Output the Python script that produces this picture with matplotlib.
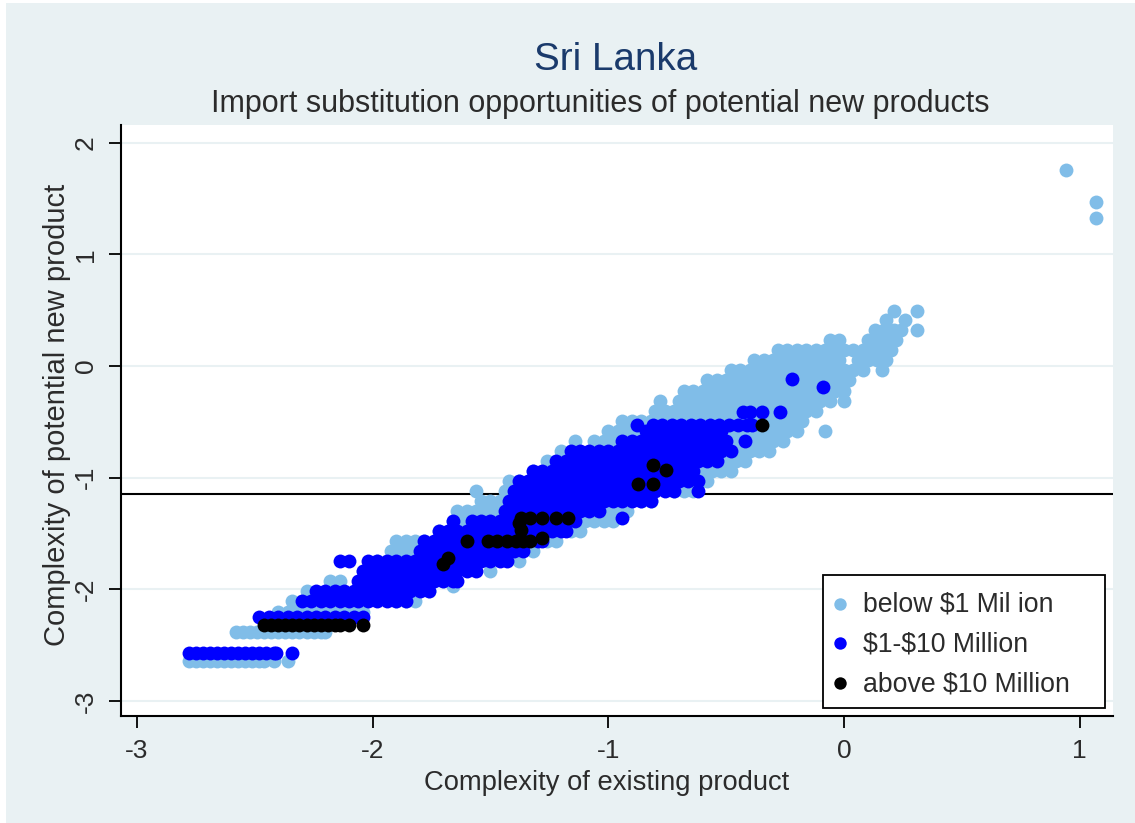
import matplotlib
matplotlib.use('Agg')
import matplotlib.pyplot as plt
from matplotlib.patches import Rectangle

plt.rcParams['font.family'] = ['Liberation Sans', 'DejaVu Sans']

# rows of (complexity of new product, [complexity of existing product, ...])
# light points hidden under the blue ones are left out
light_rows = [
    (-2.64, [-2.78, -2.75, -2.72, -2.69, -2.66, -2.63, -2.60, -2.57, -2.54, -2.51, -2.48, -2.46, -2.42, -2.36]),
    (-2.38, [-2.58, -2.55, -2.52, -2.49, -2.46, -2.43, -2.40, -2.37, -2.34, -2.31, -2.28, -2.25, -2.22, -2.20]),
    (-2.20, [-2.40, -2.36, -2.32, -2.28, -2.24, -2.20, -2.16, -2.12, -2.08, -2.04]),
    (-2.11, [-2.34, -2.30, -2.26, -1.90, -1.86, -1.82]),
    (-2.02, [-2.28, -1.80, -1.76]),
    (-1.97, [-1.66]),
    (-1.93, [-2.18, -2.14, -1.78, -1.74, -1.70]),
    (-1.84, [-2.04, -1.68, -1.64, -1.50]),
    (-1.75, [-1.98, -1.94, -1.62, -1.58, -1.38]),
    (-1.66, [-1.92, -1.88, -1.84, -1.32]),
    (-1.57, [-1.90, -1.86, -1.82, -1.78, -1.26, -1.22]),
    (-1.48, [-1.72, -1.16, -1.12]),
    (-1.39, [-1.66, -1.62, -1.14, -1.10, -1.06, -1.02, -0.98]),
    (-1.30, [-1.64, -1.60, -1.56, -1.52, -1.48, -1.04, -1.00, -0.96, -0.92]),
    (-1.21, [-1.54, -1.50, -1.46, -0.86, -0.82]),
    (-1.12, [-1.56, -1.44, -1.40, -0.72, -0.68, -0.64]),
    (-1.03, [-1.42, -1.38, -0.62, -0.58]),
    (-0.94, [-1.32, -0.60, -0.56, -0.52, -0.48]),
    (-0.85, [-1.26, -1.22, -0.54, -0.50, -0.46, -0.42]),
    (-0.76, [-1.20, -1.16, -0.48, -0.44, -0.40, -0.36, -0.32]),
    (-0.67, [-1.14, -1.06, -1.02, -0.98, -0.46, -0.42, -0.38, -0.34, -0.30, -0.26]),
    (-0.58, [-1.00, -0.96, -0.92, -0.88, -0.48, -0.44, -0.40, -0.36, -0.32, -0.28, -0.24, -0.20, -0.08]),
    (-0.49, [-0.94, -0.90, -0.86, -0.82, -0.78, -0.74, -0.70, -0.66, -0.62, -0.58, -0.54, -0.50, -0.46, -0.42, -0.38, -0.34, -0.30, -0.26, -0.22, -0.18]),
    (-0.40, [-0.80, -0.76, -0.72, -0.68, -0.64, -0.60, -0.56, -0.52, -0.48, -0.44, -0.40, -0.36, -0.32, -0.28, -0.24, -0.20, -0.16, -0.12]),
    (-0.31, [-0.78, -0.70, -0.66, -0.62, -0.58, -0.54, -0.50, -0.46, -0.42, -0.38, -0.34, -0.30, -0.26, -0.22, -0.18, -0.14, -0.10, -0.06, 0.00]),
    (-0.22, [-0.68, -0.64, -0.60, -0.56, -0.52, -0.48, -0.44, -0.40, -0.36, -0.32, -0.28, -0.24, -0.20, -0.16, -0.12, -0.08, -0.04, 0.00]),
    (-0.13, [-0.58, -0.54, -0.50, -0.46, -0.42, -0.38, -0.34, -0.30, -0.26, -0.22, -0.18, -0.14, -0.10, -0.06, -0.02, 0.02]),
    (-0.04, [-0.48, -0.44, -0.40, -0.36, -0.32, -0.28, -0.24, -0.20, -0.16, -0.12, -0.08, -0.04, 0.00, 0.04, 0.08, 0.16]),
    (0.05, [-0.38, -0.34, -0.30, -0.26, -0.22, -0.18, -0.14, -0.10, -0.06, -0.02, 0.06, 0.10, 0.14, 0.18]),
    (0.14, [-0.28, -0.24, -0.20, -0.16, -0.12, -0.08, -0.04, 0.00, 0.04, 0.08, 0.12, 0.16, 0.20]),
    (0.23, [-0.06, -0.02, 0.10, 0.14, 0.18, 0.22]),
    (0.32, [0.13, 0.17, 0.21, 0.24, 0.31]),
    (0.41, [0.18, 0.26]),
    (0.49, [0.21, 0.31]),
    (1.33, [1.07]),
    (1.47, [1.07]),
    (1.76, [0.94]),
]
blue_rows = [
    (-2.57, [-2.78, -2.75, -2.72, -2.69, -2.66, -2.63, -2.60, -2.57, -2.54, -2.51, -2.48, -2.45, -2.42, -2.41, -2.34]),
    (-2.25, [-2.48, -2.44, -2.40, -2.36, -2.32, -2.28, -2.24, -2.20, -2.16, -2.12, -2.08, -2.04]),
    (-2.11, [-2.30, -2.26, -2.22, -2.18, -2.14, -2.10, -2.06, -2.02, -1.98, -1.94, -1.90, -1.86]),
    (-2.02, [-2.24, -2.20, -2.16, -2.12, -2.08, -2.04, -2.00, -1.96, -1.92, -1.88, -1.84, -1.80, -1.76]),
    (-1.93, [-2.06, -2.02, -1.98, -1.94, -1.90, -1.86, -1.82, -1.78, -1.74, -1.70, -1.66, -1.64]),
    (-1.84, [-2.04, -2.00, -1.96, -1.92, -1.88, -1.84, -1.80, -1.76, -1.72, -1.68, -1.64, -1.60, -1.56]),
    (-1.75, [-2.14, -2.10, -2.02, -1.98, -1.94, -1.90, -1.86, -1.82, -1.78, -1.74, -1.70, -1.66, -1.62, -1.58, -1.54, -1.50, -1.46, -1.43]),
    (-1.66, [-1.80, -1.76, -1.72, -1.68, -1.64, -1.60, -1.56, -1.52, -1.48, -1.44, -1.40, -1.36]),
    (-1.57, [-1.78, -1.74, -1.70, -1.66, -1.62, -1.58, -1.54, -1.50, -1.46, -1.42, -1.38, -1.34, -1.30, -1.28]),
    (-1.48, [-1.72, -1.68, -1.64, -1.60, -1.56, -1.52, -1.48, -1.44, -1.40, -1.36, -1.32, -1.28, -1.24, -1.20, -1.18]),
    (-1.39, [-1.66, -1.58, -1.54, -1.50, -1.46, -1.42, -1.38, -1.34, -1.30, -1.26, -1.22, -1.18, -1.14]),
    (-1.36, [-0.94]),
    (-1.30, [-1.44, -1.40, -1.36, -1.32, -1.28, -1.24, -1.20, -1.16, -1.12, -1.08, -1.04]),
    (-1.21, [-1.42, -1.38, -1.34, -1.30, -1.26, -1.22, -1.18, -1.14, -1.10, -1.06, -1.02, -0.98, -0.94, -0.90, -0.86, -0.82]),
    (-1.12, [-1.40, -1.36, -1.32, -1.28, -1.24, -1.20, -1.16, -1.12, -1.08, -1.04, -1.00, -0.96, -0.92, -0.88, -0.84, -0.80, -0.76, -0.72, -0.62]),
    (-1.03, [-1.38, -1.34, -1.30, -1.26, -1.22, -1.18, -1.14, -1.10, -1.06, -1.02, -0.98, -0.94, -0.90, -0.86, -0.82, -0.78, -0.74, -0.70, -0.66, -0.62]),
    (-0.94, [-1.32, -1.28, -1.24, -1.20, -1.16, -1.12, -1.08, -1.04, -1.00, -0.96, -0.92, -0.88, -0.84, -0.80, -0.76, -0.72, -0.68, -0.64]),
    (-0.85, [-1.22, -1.18, -1.14, -1.10, -1.06, -1.02, -0.98, -0.94, -0.90, -0.86, -0.82, -0.78, -0.74, -0.70, -0.66, -0.62, -0.58, -0.54]),
    (-0.76, [-1.16, -1.12, -1.08, -1.04, -1.00, -0.96, -0.92, -0.88, -0.84, -0.80, -0.76, -0.72, -0.68, -0.64, -0.60, -0.56, -0.52, -0.48]),
    (-0.67, [-0.94, -0.90, -0.86, -0.82, -0.78, -0.74, -0.70, -0.66, -0.62, -0.58, -0.54, -0.50, -0.42]),
    (-0.58, [-0.84, -0.80, -0.76, -0.72, -0.68, -0.64, -0.60, -0.56, -0.52]),
    (-0.53, [-0.88, -0.81, -0.77, -0.73, -0.69, -0.65, -0.61, -0.57, -0.53, -0.49, -0.45, -0.41, -0.39]),
    (-0.41, [-0.43, -0.40, -0.35, -0.27]),
    (-0.19, [-0.09]),
    (-0.12, [-0.22]),
]
black_rows = [
    (-2.32, [-2.46, -2.43, -2.40, -2.37, -2.34, -2.31, -2.28, -2.25, -2.22, -2.19, -2.16, -2.14, -2.10, -2.04]),
    (-1.77, [-1.70]),
    (-1.72, [-1.68]),
    (-1.57, [-1.60, -1.51, -1.47, -1.43, -1.39, -1.36, -1.33]),
    (-1.54, [-1.28]),
    (-1.47, [-1.37]),
    (-1.41, [-1.38]),
    (-1.36, [-1.37, -1.33, -1.28, -1.22, -1.17]),
    (-1.06, [-0.875, -0.81]),
    (-0.93, [-0.755]),
    (-0.89, [-0.81]),
    (-0.53, [-0.35]),
]
series_names = [r'below \$1 Mil ion', r'\$1-\$10 Million', r'above \$10 Million']
x_ticks = [-3, -2, -1, 0, 1]
y_ticks = [-3, -2, -1, 0, 1, 2]
ref_line = -1.15

W, H = 1135, 823
text_color = '#2b2b2b'
colors = ['#80bde8', '#0000ff', '#000000']


def flatten(rows):
    xs, ys = [], []
    for y, row in rows:
        for x in row:
            xs.append(x)
            ys.append(y)
    return xs, ys


def fx(px):
    return px / W


def fy(py):
    return 1 - py / H


fig = plt.figure(figsize=(W / 100, H / 100), dpi=100, facecolor='white')
fig.patches.append(Rectangle((fx(6), 0), 1 - fx(6), fy(3), transform=fig.transFigure,
                             facecolor='#e9f1f3', edgecolor='none', figure=fig, zorder=-5))
ax = fig.add_axes([fx(121), fy(716), fx(1113 - 121), (716 - 125) / H])
ax.set_xlim(-3.067, 1.141)
ax.set_ylim(-3.136, 2.159)

for t in y_ticks:
    ax.axhline(t, color='#e9f1f3', lw=1.5, zorder=1)
ax.axhline(ref_line, color='black', lw=1.5, zorder=2)

for i, rows in enumerate([light_rows, blue_rows, black_rows]):
    xs, ys = flatten(rows)
    ax.scatter(xs, ys, s=100, color=colors[i], linewidths=0, zorder=3 + i)

ax.spines['top'].set_visible(False)
ax.spines['right'].set_visible(False)
ax.spines['left'].set_linewidth(1.5)
ax.spines['bottom'].set_linewidth(1.5)
ax.set_xticks(x_ticks)
ax.set_yticks(y_ticks)
ax.set_xticklabels([str(t) for t in x_ticks])
ax.set_yticklabels([str(t) for t in y_ticks], rotation=90, va='center')
ax.tick_params(axis='both', length=8.5, width=1.3, labelsize=19, labelcolor=text_color, pad=8)

ax.set_xlabel('Complexity of existing product', fontsize=19.7, color=text_color, labelpad=5)
ax.xaxis.label.set_x((607 - 121) / 992)
ax.set_ylabel('Complexity of potential new product', fontsize=21, color=text_color, labelpad=2)
ax.yaxis.label.set_y((716 - 415) / 591)

fig.text(fx(616), fy(60), 'Sri Lanka', fontsize=27.8, color='#1a3a6b', ha='center', va='center')
fig.text(fx(600), fy(104), 'Import substitution opportunities of potential new products',
         fontsize=22, color=text_color, ha='center', va='center')

# legend box drawn by hand, the padding is lopsided in the original
fig_t = fig.transFigure
ax.add_patch(Rectangle((fx(823), fy(708)), fx(1105 - 823), (708 - 575) / H, transform=fig_t,
                       facecolor='white', edgecolor='black', lw=1.3, zorder=10))
for i, py in enumerate([604, 643, 683]):
    ax.scatter([fx(840)], [fy(py)], s=80, color=colors[i], linewidths=0, transform=fig_t,
               zorder=11, clip_on=False)
    ax.text(fx(863), fy(py + 1), series_names[i], transform=fig_t, fontsize=19.2, color=text_color,
            ha='left', va='center', zorder=11)

fig.savefig('out.png', dpi=100, facecolor=fig.get_facecolor())
